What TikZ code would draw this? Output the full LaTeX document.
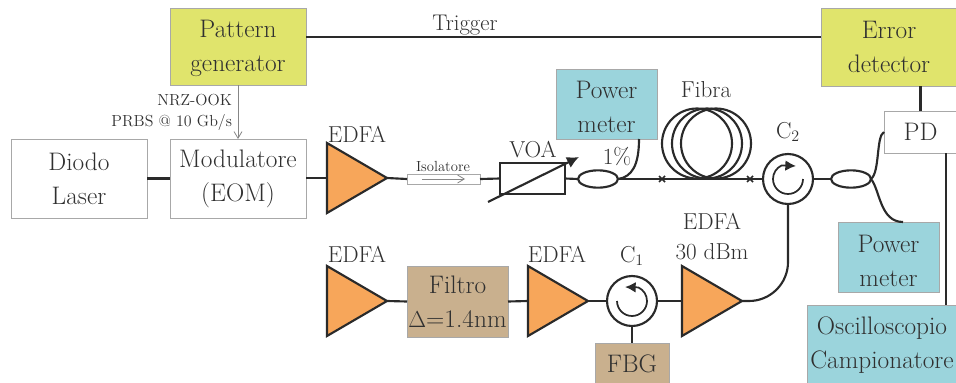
\documentclass[tikz,border=0pt]{standalone}
\usetikzlibrary{shapes.geometric,arrows.meta,calc}
\definecolor{cyel}{HTML}{E0E46C}
\definecolor{cblu}{HTML}{9BD4DC}
\definecolor{ctan}{HTML}{C9B08E}
\definecolor{cora}{HTML}{F7A65A}
\definecolor{cink}{HTML}{2A2A2A}
\definecolor{cedge}{HTML}{A8A8A8}
\definecolor{ctxt}{HTML}{303030}
\newcommand\lowertext[2]{\raisebox{-#1}[\height][\depth]{#2}}
\tikzset{
  x=0.75pt,y=-0.75pt,
  lbl/.style={inner sep=0pt,outer sep=0pt,text=ctxt,font=\fontsize{17.3}{21}\selectfont},
  small/.style={lbl,font=\fontsize{12}{14}\selectfont},
  tiny/.style={lbl,font=\fontsize{11}{13}\selectfont},
  blockbox/.style 2 args={draw=cedge,line width=0.6pt,anchor=center,align=center,inner sep=0pt,outer sep=0pt,
     minimum width=#1*0.75pt,minimum height=#2*0.75pt,text=ctxt,font=\fontsize{19}{25.5}\selectfont},
  amp/.style={draw=cink,fill=cora,line width=1.6pt,isosceles triangle,isosceles triangle stretches,
     shape border rotate=0,minimum width=52.5pt,minimum height=45pt,inner sep=0pt,outer sep=0pt,anchor=west},
  circ/.style={circle,draw=cink,line width=1.6pt,minimum size=37.5pt,inner sep=0pt,outer sep=0pt},
  coupler/.style={ellipse,draw=cink,line width=1.6pt,minimum width=30pt,minimum height=13pt,inner sep=0pt,outer sep=0pt},
  fib/.style={draw=cink,line width=1.6pt},
  spin/.style={draw=cink,line width=1.3pt},
  head/.style={-{Latex[length=8pt,width=8pt]}},
}
\begin{document}
\begin{tikzpicture}
\useasboundingbox (0,0) rectangle (956,382);
\clip (0,0) rectangle (956,382);
% boxes
\node[blockbox={136}{77},fill=cyel] (pg) at (238,46.5) {\lowertext{1.5pt}{Pattern}\\\lowertext{1.5pt}{generator}};
\node[blockbox={136}{78},fill=cyel] (ed) at (889,47) {Error\\detector};
\node[blockbox={136}{79}] (laser) at (79,178.5) {Diodo\\Laser};
\node[blockbox={136}{79}] (mod) at (238,178.5) {Modulatore\\(EOM)};
\node[blockbox={101}{70},fill=cblu] (pm1) at (606.5,104) {\lowertext{2.2pt}{Power}\\\lowertext{2.2pt}{meter}};
\node[blockbox={73}{42}] (pd) at (920.5,132) {PD};
\node[blockbox={101}{70},fill=cblu] (pm2) at (888.5,257) {\lowertext{3pt}{Power}\\\lowertext{3pt}{meter}};
\node[blockbox={150}{80},fill=cblu] (osc) at (882,345) {Oscilloscopio\\Campionatore};
\node[blockbox={101}{71},fill=ctan] (filt) at (457.5,301.5) {Filtro\\$\Delta$=1.4nm};
\node[blockbox={74}{42},fill=ctan] (fbg) at (632,364) {FBG};
% amplifiers
\node[amp] (a1) at (327,178) {};
\node[amp] (a2) at (327,301) {};
\node[amp] (a3) at (528,301) {};
\node[amp] (a4) at (682,301) {};
% circulators
\node[circ] (c1) at (632,301) {};
\node[circ] (c2) at (788,179) {};
% couplers
\node[coupler] (k1) at (598,179) {};
\node[coupler] (k2) at (851,179) {};
% isolator, VOA
\node[draw=cedge,line width=0.6pt,minimum width=54.75pt,minimum height=7.5pt,inner sep=0pt,outer sep=0pt] (iso) at (443.5,179) {};
\node[draw=cink,line width=1.6pt,minimum width=48.75pt,minimum height=23.25pt,inner sep=0pt,outer sep=0pt] (voa) at (532.5,178.5) {};
% named marks
\coordinate (x1) at (662,179);
\coordinate (x2) at (750,179);
\coordinate (dvoa1) at (488,202);
\coordinate (dvoa2) at (579,157);
\coordinate (iso1) at (422,179);
\coordinate (iso2) at (465,179);
% fibre coil
\draw[fib] (697,143.5) circle[radius=35];
\draw[fib] (707,143.5) circle[radius=35];
\draw[fib] (716,143.5) circle[radius=35];
% connectors
\draw[fib] (laser.east) -- (mod.west);
\draw[fib] (mod.east |- a1.west) -- (a1.west);
\draw[fib] (a1.apex) -- (iso.west);
\draw[fib] (iso.east) -- (voa.west);
\draw[fib] (voa.east) -- (k1.west);
\draw[fib] (k1.east) -- (c2.west);
\draw[fib] (c2.east) -- (k2.west);
\draw[fib] (a2.apex) -- (filt.west);
\draw[fib] (filt.east) -- (a3.west);
\draw[fib] (a3.apex) -- (c1.west);
\draw[fib] (c1.east) -- (a4.west);
\draw[fib] (c1.south) -- (fbg.north);
\draw[fib] (c2.south) -- (788,262) arc[start angle=0,end angle=90,radius=39] -- (a4.apex);
\draw[fib] (pg.east |- 0,37) -- (ed.west |- 0,37);
\draw[fib] (ed.south -| pd.north) -- (pd.north);
\draw[fib] (946,153) -- (946,305);
\draw[fib] (k1.east) .. controls (632,177) and (639,165) .. (639,139);
\draw[fib] (k2.east) .. controls (880,172) and (876,136) .. (884,132);
\draw[fib] (k2.east) .. controls (880,190) and (880,222) .. (903,222);
% thin arrows
\draw[draw=cedge!80!black,line width=0.6pt,-{Straight Barb[length=5pt,width=6pt]}] (pg.south) -- (mod.north);
\draw[draw=cedge!80!black,line width=0.6pt,-{Straight Barb[length=5pt,width=6pt]}] (iso1) -- (iso2);
% VOA slash
\draw[draw=cink,line width=1.6pt,-{Latex[length=9pt,width=9pt]}] (dvoa1) -- (dvoa2);
% splice marks
\foreach \p in {x1,x2}{
  \draw[draw=cink,line width=1.2pt] ($(\p)+(-3,-3)$) -- ($(\p)+(3,3)$) ($(\p)+(-3,3)$) -- ($(\p)+(3,-3)$);
}
% circulator arrows
\draw[spin,head] (803,179) arc[start angle=0,end angle=245,radius=15] -- (796,166);
\draw[spin,head] (617,301) arc[start angle=180,end angle=-65,radius=15] -- (625,287);
% labels
\node[lbl,font=\fontsize{17}{20}\selectfont] at (465,25) {Trigger};
\node[small,anchor=east] at (232,100) {NRZ-OOK};
\node[small,anchor=east] at (232,122) {PRBS @ 10 Gb/s};
\node[lbl] at (357,134) {EDFA};
\node[lbl] at (357,254) {EDFA};
\node[lbl] at (557,254) {EDFA};
\node[lbl] at (712,221) {EDFA};
\node[lbl] at (712,252) {30 dBm};
\node[lbl] at (533,150) {VOA};
\node[lbl] at (617,156) {1\%};
\node[lbl] at (706,90) {Fibra};
\node[lbl] at (788,132) {C$_2$};
\node[lbl] at (632,256) {C$_1$};
\node[tiny] at (443,166) {Isolatore};
\end{tikzpicture}
\end{document}
